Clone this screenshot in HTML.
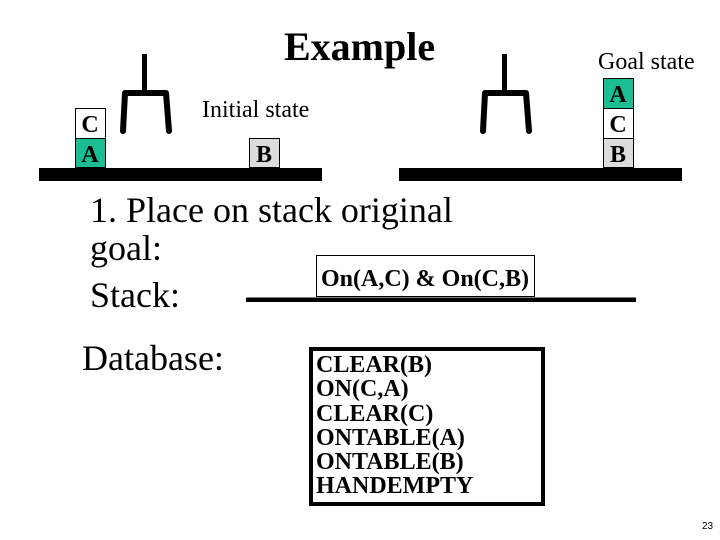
<!DOCTYPE html>
<html>
<head>
<meta charset="utf-8">
<style>
html,body{margin:0;padding:0;background:#fff}
svg{display:block}
text{font-family:"Liberation Serif",serif;fill:#000}
.b{font-weight:bold}
</style>
</head>
<body>
<svg width="720" height="540" viewBox="0 0 720 540" xmlns="http://www.w3.org/2000/svg">
<rect width="720" height="540" fill="#fff"/>
<text x="284" y="60" class="b" font-size="40">Example</text>

<rect x="39" y="168" width="283" height="13" fill="#000"/>
<rect x="399" y="168" width="283" height="13" fill="#000"/>

<g fill="none" stroke="#000" stroke-linejoin="round">
<path d="M144.500 54V90" stroke-width="5"/>
<path d="M123 131L125 93H166L169 131" stroke-width="6" stroke-linecap="round"/>
<path d="M504.500 54V90" stroke-width="5"/>
<path d="M483 131L485 93H526L529 131" stroke-width="6" stroke-linecap="round"/>
</g>

<g stroke="#000" stroke-width="1">
<rect x="75.500" y="108.500" width="30" height="30" fill="#fff"/>
<rect x="75.500" y="138.500" width="30" height="29" fill="#1bbd92"/>
<rect x="249.500" y="138.500" width="30" height="29" fill="#dcdcdc"/>
<rect x="603.500" y="78.500" width="30" height="30" fill="#1bbd92"/>
<rect x="603.500" y="108.500" width="30" height="30" fill="#fff"/>
<rect x="603.500" y="138.500" width="30" height="29" fill="#dcdcdc"/>
</g>

<g class="b" font-size="24" text-anchor="middle">
<text x="90" y="132">C</text>
<text x="90" y="162">A</text>
<text x="264" y="162">B</text>
<text x="618" y="102">A</text>
<text x="618" y="132">C</text>
<text x="618" y="162">B</text>
</g>

<text x="202" y="117" font-size="24">Initial state</text>
<text x="598" y="69" font-size="24">Goal state</text>

<text x="90" y="222" font-size="36">1. Place on stack original</text>
<text x="90" y="260" font-size="36">goal:</text>
<text x="90" y="307" font-size="36">Stack:</text>
<text x="82" y="370" font-size="36">Database:</text>

<rect x="246" y="297.500" width="390" height="4.500" fill="#000"/>
<rect x="316.500" y="255.500" width="218" height="41" fill="#fff" stroke="#000" stroke-width="1"/>
<text x="321" y="286" class="b" font-size="24">On(A,C) &amp; On(C,B)</text>

<rect x="311" y="349" width="232" height="155" fill="#fff" stroke="#000" stroke-width="4"/>
<g class="b" font-size="24">
<text x="316" y="372">CLEAR(B)</text>
<text x="316" y="396">ON(C,A)</text>
<text x="316" y="421">CLEAR(C)</text>
<text x="316" y="445">ONTABLE(A)</text>
<text x="316" y="469">ONTABLE(B)</text>
<text x="316" y="493">HANDEMPTY</text>
</g>

<text x="702" y="529" font-size="10" style="font-family:'Liberation Sans',sans-serif">23</text>
</svg>
</body>
</html>
